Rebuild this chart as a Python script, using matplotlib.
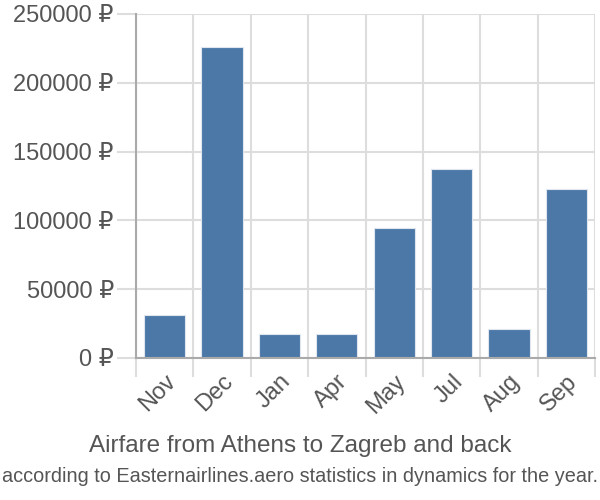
import matplotlib
matplotlib.use("Agg")
import matplotlib.pyplot as plt
from matplotlib.lines import Line2D

plt.rcParams['font.family'] = ['Liberation Sans', 'DejaVu Sans']

months = ["Nov", "Dec", "Jan", "Apr", "May", "Jul", "Aug", "Sep"]
prices = [31000, 226000, 17500, 17500, 94500, 137500, 21000, 122500]
yticks = [0, 50000, 100000, 150000, 200000, 250000]
title = "Airfare from Athens to Zagreb and back"
subtitle = "according to Easternairlines.aero statistics in dynamics for the year."

txt = '#555555'
grid = '#dddddd'
axc = '#aaaaaa'
bar_color = '#4c78a8'

fig = plt.figure(figsize=(6, 5), dpi=100)
ax = fig.add_axes([136/600, 1-358/500, 459/600, 344/500])

n = len(months)
centers = [i + 0.5 for i in range(n)]
ax.bar(centers, prices, width=0.72, color=bar_color, edgecolor='#dfe6ef', linewidth=0.8, zorder=3)

ax.set_xlim(0, n)
ax.set_ylim(0, 250000)

for s in ['top', 'right', 'bottom', 'left']:
    ax.spines[s].set_visible(False)

ax.set_yticks(yticks)
ax.set_yticklabels([f"{v} ₽" for v in yticks], color=txt, fontsize=17)
ax.set_xticks(range(n + 1))
ax.set_xticklabels([''] * (n + 1))
ax.set_xticks(centers, minor=True)
ax.set_xticklabels(months, minor=True, rotation=45, ha='right', rotation_mode='anchor', color=txt, fontsize=17)
ax.tick_params(axis='x', which='minor', length=0, pad=9)
ax.tick_params(axis='x', which='major', length=14, width=1.5, color=grid, direction='out')
ax.tick_params(axis='y', length=14, width=1.5, color=grid, direction='out', pad=2)
ax.yaxis.get_major_ticks()[0].tick1line.set_color(axc)
ax.xaxis.get_major_ticks()[0].tick1line.set_color(axc)
ax.grid(True, which='major', color=grid, linewidth=1.5, zorder=0)
ax.set_axisbelow(True)

ax.add_line(Line2D([0, 1], [0, 0], transform=ax.transAxes, color=axc, linewidth=1.5, zorder=4, clip_on=False))
ax.add_line(Line2D([0, 0], [0, 1], transform=ax.transAxes, color=axc, linewidth=1.5, zorder=4, clip_on=False))

fig.text(0.5, 1-446/500, title, ha='center', va='center', color=txt, fontsize=17.5)
fig.text(0.5, 1-477/500, subtitle, ha='center', va='center', color=txt, fontsize=14.3)

fig.savefig('out.png', dpi=100)
